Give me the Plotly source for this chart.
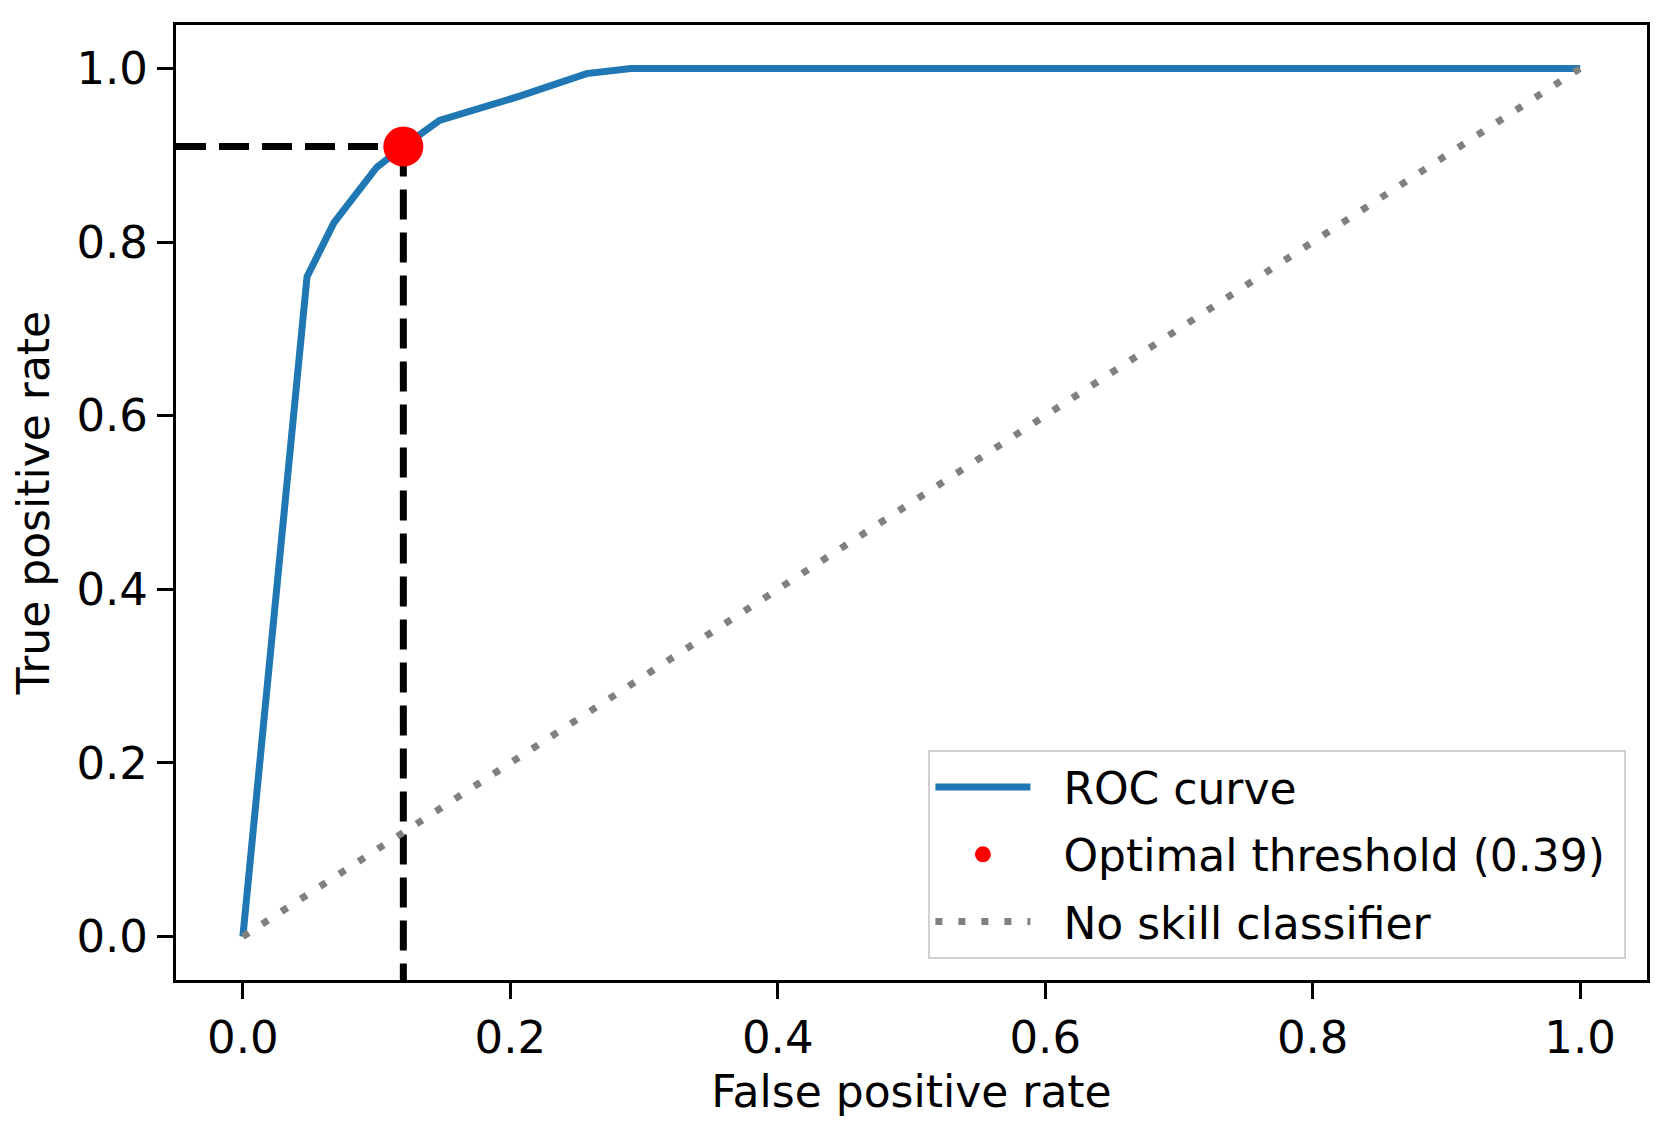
import plotly.graph_objects as go

# ROC curve
fpr = [0.0, 0.048, 0.068, 0.100, 0.120, 0.147, 0.207, 0.257, 0.290, 1.0]
tpr = [0.0, 0.760, 0.822, 0.886, 0.910, 0.940, 0.968, 0.994, 1.000, 1.0]

# optimal threshold point
opt_threshold = 0.39
opt_fpr = 0.12
opt_tpr = 0.91

# no skill diagonal
chance_x = [0.0, 1.0]
chance_y = [0.0, 1.0]

x_range = [-0.05, 1.05]
y_range = [-0.05, 1.05]
tick_vals = [0.0, 0.2, 0.4, 0.6, 0.8, 1.0]
tick_text = ["0.0", "0.2", "0.4", "0.6", "0.8", "1.0"]

font = "DejaVu Sans"
sp = "\u00a0\u00a0"  # gap between legend symbol and text

fig = go.Figure()

# dashed guide lines to the optimal point
fig.add_trace(go.Scatter(x=[x_range[0], opt_fpr], y=[opt_tpr, opt_tpr], mode="lines",
                         line=dict(color="black", width=7, dash="30px,13px"),
                         showlegend=False, hoverinfo="skip"))
fig.add_trace(go.Scatter(x=[opt_fpr, opt_fpr], y=[opt_tpr, y_range[0]], mode="lines",
                         line=dict(color="black", width=7, dash="30px,13px"),
                         showlegend=False, hoverinfo="skip"))

fig.add_trace(go.Scatter(x=fpr, y=tpr, mode="lines", name=sp + "ROC curve",
                         legendgroup="a", line=dict(color="#1f77b4", width=7)))
fig.add_trace(go.Scatter(x=[opt_fpr], y=[opt_tpr], mode="markers",
                         name=sp + "Optimal threshold (%.2f)" % opt_threshold + "\u00a0",
                         legendgroup="b", marker=dict(color="red", size=40)))
fig.add_trace(go.Scatter(x=chance_x, y=chance_y, mode="lines", name=sp + "No skill classifier",
                         legendgroup="c", line=dict(color="grey", width=7, dash="7px,16px")))

axis_style = dict(showline=True, linecolor="black", linewidth=3, mirror=True,
                  ticks="outside", ticklen=16, tickwidth=3, tickcolor="black",
                  showgrid=False, zeroline=False, tickvals=tick_vals, ticktext=tick_text,
                  tickfont=dict(family=font, size=45, color="black"))

fig.update_layout(
    width=1669, height=1134,
    margin=dict(l=168, r=30, t=17, b=162),
    plot_bgcolor="white", paper_bgcolor="white",
    font=dict(family=font, size=44, color="black"),
    xaxis=dict(range=x_range,
               title=dict(text="False positive rate", standoff=14,
                          font=dict(family=font, size=44)), **axis_style),
    yaxis=dict(range=y_range,
               title=dict(text="True positive rate", standoff=16,
                          font=dict(family=font, size=44)), **axis_style),
    legend=dict(x=0.986, y=0.022, xanchor="right", yanchor="bottom",
                bgcolor="rgba(255,255,255,0.8)", bordercolor="#d0d0d0", borderwidth=2,
                font=dict(family=font, size=44, color="black"), itemwidth=95,
                tracegroupgap=7),
)

fig.write_html("out.html")
